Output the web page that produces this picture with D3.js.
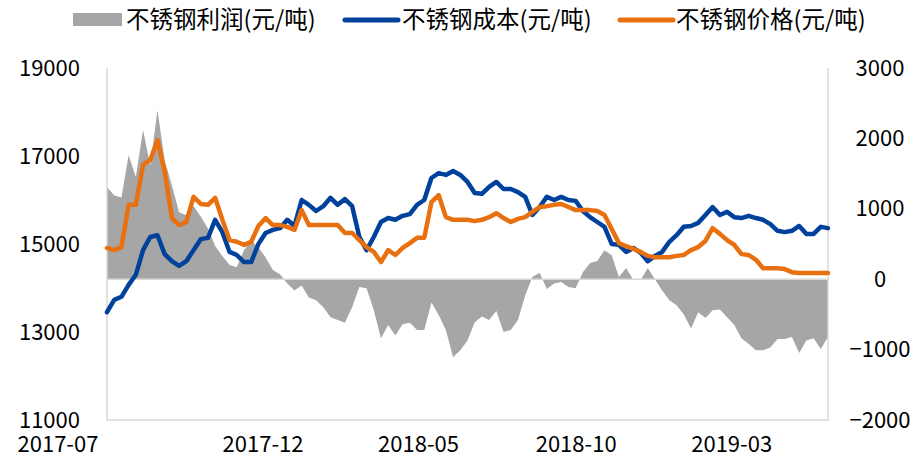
<!DOCTYPE html>
<html>
<head>
<meta charset="utf-8">
<script src="https://cdn.jsdelivr.net/npm/d3@7"></script>
<style>
body { margin: 0; background: #fff; }
text { font-family: "Noto Sans CJK SC", "Noto Sans", sans-serif; fill: #000; }
</style>
</head>
<body>
<svg id="chart" width="922" height="459"></svg>
<script>
// weekly samples, 2017-07-03 .. 2019-06-03
var dates = d3.timeMonday.range(new Date(2017, 6, 3), new Date(2019, 5, 4));

var profit = [1310,1190,1160,1760,1450,2120,1620,2400,1690,1330,
	950,910,1040,890,720,470,330,200,170,410,
	550,450,310,130,70,-60,-160,-90,-260,-300,
	-400,-540,-580,-620,-400,-110,-130,-440,-840,-650,
	-800,-640,-620,-720,-720,-330,-510,-720,-1110,-1010,
	-870,-610,-530,-580,-450,-750,-720,-580,-230,30,
	90,-140,-60,-40,-110,-130,100,230,260,410,
	340,30,160,-10,-10,160,0,-160,-300,-370,
	-500,-700,-470,-550,-440,-430,-540,-650,-840,-920,
	-1010,-1010,-970,-850,-850,-820,-1050,-870,-840,-990,
	-820];

var cost = [13450,13730,13800,14070,14300,14860,15160,15200,14770,14610,
	14500,14610,14860,15110,15140,15550,15270,14820,14750,14590,
	14590,15000,15250,15320,15360,15550,15410,16000,15890,15750,
	15860,16050,15890,16020,15860,15160,14860,15160,15500,15590,
	15550,15640,15680,15890,16000,16500,16610,16570,16660,16570,
	16410,16160,16140,16300,16410,16250,16250,16180,16070,15660,
	15840,16070,16000,16070,16000,15980,15750,15610,15500,15390,
	15000,14980,14820,14910,14800,14610,14730,14820,15050,15200,
	15390,15410,15480,15660,15840,15660,15730,15610,15590,15640,
	15590,15550,15450,15300,15270,15300,15410,15230,15230,15390,
	15360];

var price = [14910,14860,14930,15890,15890,16800,16910,17360,16640,15590,
	15430,15500,16070,15910,15890,16050,15550,15090,15050,14980,
	15050,15410,15590,15430,15430,15390,15320,15770,15430,15430,
	15430,15430,15430,15250,15250,15090,14930,14820,14590,14860,
	14750,14910,15020,15140,15140,15950,16110,15610,15550,15550,
	15550,15520,15550,15610,15700,15590,15500,15570,15610,15730,
	15840,15860,15890,15910,15840,15770,15770,15770,15750,15660,
	15340,15020,14950,14890,14820,14730,14700,14700,14700,14730,
	14750,14860,14930,15070,15360,15230,15090,14980,14770,14750,
	14640,14450,14450,14450,14430,14360,14340,14340,14340,14340,
	14340];

var xTicks = ["2017-07", "2017-12", "2018-05", "2018-10", "2019-03"];
var leftTicks = [11000, 13000, 15000, 17000, 19000];
var rightTicks = [-2000, -1000, 0, 1000, 2000, 3000];
var seriesNames = ["不锈钢利润(元/吨)", "不锈钢成本(元/吨)", "不锈钢价格(元/吨)"];

var gray = "#a6a6a6", blue = "#00419b", orange = "#e8700e", frame = "#d9d9d9";
var pLeft = 107, pRight = 828, pTop = 68, pBottom = 420;

var svg = d3.select("#chart");

var x = d3.scaleTime()
	.domain(d3.extent(dates))
	.range([pLeft, pRight]);
var yL = d3.scaleLinear().domain([11000, 19000]).range([pBottom, pTop]);
var yR = d3.scaleLinear().domain([-2000, 3000]).range([pBottom, pTop]);

// profit area (right axis)
svg.append("path")
	.datum(profit)
	.attr("fill", gray)
	.attr("d", d3.area()
		.x(function(d, i) { return x(dates[i]); })
		.y0(yR(0))
		.y1(function(d) { return yR(d); }));

// frame
svg.append("path")
	.attr("fill", "none")
	.attr("stroke", frame)
	.attr("stroke-width", 1.5)
	.attr("d", "M" + pLeft + "," + pTop + "V" + pBottom + "H" + pRight + "V" + pTop);

svg.append("line")
	.attr("x1", pLeft).attr("x2", pRight)
	.attr("y1", yR(0)).attr("y2", yR(0))
	.attr("stroke", frame)
	.attr("stroke-width", 1.5);

var line = function(s) {
	return d3.line()
		.x(function(d, i) { return x(dates[i]); })
		.y(function(d) { return s(d); });
};

svg.append("path")
	.datum(cost)
	.attr("fill", "none")
	.attr("stroke", blue)
	.attr("stroke-width", 4.5)
	.attr("stroke-linejoin", "round")
	.attr("stroke-linecap", "round")
	.attr("d", line(yL));

svg.append("path")
	.datum(price)
	.attr("fill", "none")
	.attr("stroke", orange)
	.attr("stroke-width", 4.5)
	.attr("stroke-linejoin", "round")
	.attr("stroke-linecap", "round")
	.attr("d", line(yL));

// axes
var gL = svg.append("g")
	.attr("transform", "translate(" + pLeft + ",0)")
	.call(d3.axisLeft(yL).tickValues(leftTicks).tickSize(0).tickPadding(27).tickFormat(d3.format("d")));
var gR = svg.append("g")
	.attr("transform", "translate(" + pRight + ",0)")
	.call(d3.axisRight(yR).tickValues(rightTicks).tickSize(0).tickPadding(0).tickFormat(d3.format("d")));
gR.selectAll("text").attr("text-anchor", "middle").attr("x", 52);

var parseMonth = d3.timeParse("%Y-%m");
var gX = svg.append("g")
	.attr("transform", "translate(0," + pBottom + ")")
	.call(d3.axisBottom(x).tickValues(xTicks.map(parseMonth)).tickSize(0).tickPadding(16).tickFormat(d3.timeFormat("%Y-%m")));
gX.selectAll("text")
	.attr("text-anchor", function(d, i) { return i ? "middle" : "end"; })
	.attr("dx", function(d, i) { return i ? 0 : -7; });

svg.selectAll(".domain").remove();
svg.selectAll(".tick text")
	.style("font-family", "\"Noto Sans CJK SC\", sans-serif")
	.style("font-size", "22px")
	.attr("fill", "#000");

// legend
var lg = svg.append("g").attr("class", "legend");
lg.append("rect").attr("x", 73).attr("y", 13).attr("width", 49).attr("height", 13).attr("fill", gray);
lg.append("line").attr("x1", 345).attr("x2", 398).attr("y1", 20).attr("y2", 20)
	.attr("stroke", blue).attr("stroke-width", 5).attr("stroke-linecap", "round");
lg.append("line").attr("x1", 620).attr("x2", 673).attr("y1", 20).attr("y2", 20)
	.attr("stroke", orange).attr("stroke-width", 5).attr("stroke-linecap", "round");
lg.selectAll("text")
	.data(seriesNames)
	.enter()
	.append("text")
	.attr("x", function(d, i) { return [126, 402, 676][i]; })
	.attr("y", 20)
	.attr("dy", "0.35em")
	.style("font-size", "23.5px")
	.text(function(d) { return d; });
</script>
</body>
</html>
